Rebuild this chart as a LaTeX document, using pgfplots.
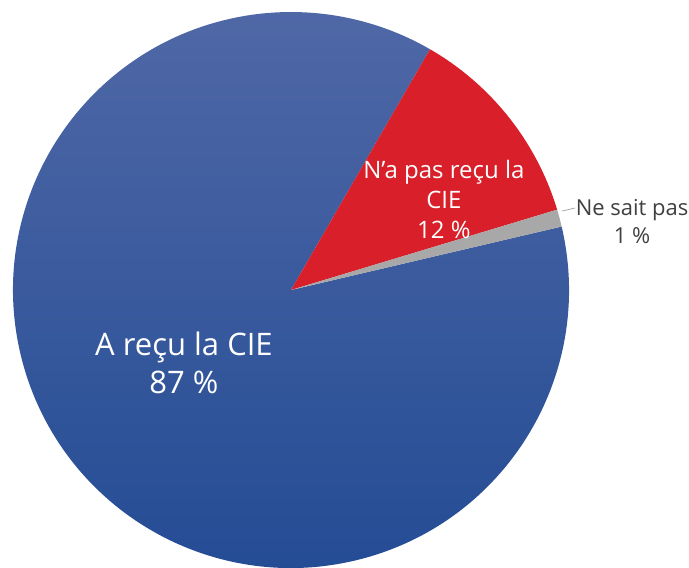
\documentclass[border=0pt]{standalone}
\usepackage{pgfplots}
\usepackage{pgfplotstable}
\pgfplotsset{compat=1.18}
\usepackage{fontspec}
\setmainfont{Open Sans}

\definecolor{blueTop}{HTML}{5068A6}
\definecolor{blueMid}{HTML}{2D56A0}
\definecolor{blueBot}{HTML}{224B94}
\definecolor{redSlice}{HTML}{D81F2A}
\definecolor{graySlice}{HTML}{A8A8A8}
\definecolor{labelGray}{HTML}{404040}

% share of answers, in %
\pgfplotstableread{
label value
recu 87
pasrecu 12
nsp 1
}\pietable

\begin{document}
\begin{tikzpicture}
% slices run clockwise from 60 degrees
\pgfplotstablegetelem{0}{value}\of\pietable \let\vA\pgfplotsretval
\pgfplotstablegetelem{1}{value}\of\pietable \let\vB\pgfplotsretval
\pgfplotstablegetelem{2}{value}\of\pietable \let\vC\pgfplotsretval
\pgfmathsetmacro\aB{60}
\pgfmathsetmacro\aC{\aB-3.6*\vB}
\pgfmathsetmacro\aA{\aC-3.6*\vC}
\pgfmathsetmacro\aEnd{\aA-3.6*\vA}
\begin{axis}[
  hide axis,
  x=139pt, y=139pt,
  xmin=-1.0468, xmax=1.4317,
  ymin=-0.9964, ymax=1.0432,
  clip=false,
]
\coordinate (ll) at (axis cs:-1.0468,-0.9964);
\coordinate (ur) at (axis cs:1.4317,1.0432);
\shade[top color=blueTop, middle color=blueMid, bottom color=blueBot]
  (axis cs:0,0) -- (axis cs:{cos(\aA)},{sin(\aA)})
  arc[start angle=\aA, end angle=\aEnd, radius=139pt] -- cycle;
\fill[redSlice]
  (axis cs:0,0) -- (axis cs:{cos(\aB)},{sin(\aB)})
  arc[start angle=\aB, end angle=\aC, radius=139pt] -- cycle;
\fill[graySlice]
  (axis cs:0,0) -- (axis cs:{cos(\aC)},{sin(\aC)})
  arc[start angle=\aC, end angle=\aA, radius=139pt] -- cycle;

\node[white, align=center, font=\fontsize{15.5}{19}\selectfont, inner sep=0pt]
  at (axis cs:-0.385,-0.262) {A reçu la CIE\\87 \%};
\node[white, align=center, font=\fontsize{12}{15}\selectfont, inner sep=0pt]
  at (axis cs:0.550,0.327) {N’a pas reçu la\\CIE\\12 \%};
\draw[graySlice, line width=0.4pt] (axis cs:0.975,0.284) -- (axis cs:1.022,0.295);
\node[labelGray, align=center, font=\fontsize{11}{14}\selectfont, inner sep=0pt]
  at (axis cs:1.227,0.248) {Ne sait pas\\1 \%};
\end{axis}
\pgfresetboundingbox
\path (ll) rectangle (ur);
\end{tikzpicture}
\end{document}
